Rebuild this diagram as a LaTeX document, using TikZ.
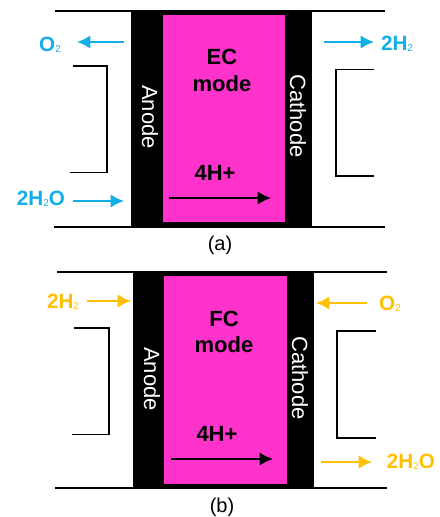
\documentclass[tikz,border=0pt]{standalone}
\usepackage{fontspec}
\setmainfont{Liberation Sans}
\usepackage{xcolor}
\usetikzlibrary{positioning,calc,arrows.meta}
\definecolor{cellpink}{HTML}{FF33CC}
\definecolor{ecblue}{HTML}{12AEE8}
\definecolor{fcyellow}{HTML}{FFC000}
\newcommand{\gassub}[1]{\raisebox{-1pt}{\fontsize{7.5}{7.5}\selectfont\mdseries #1}}
\tikzset{
  rail/.style={line width=1.4pt},
  bracket/.style={line width=1.4pt},
  ecflow/.style={ecblue, line width=1.5pt, -{Latex[length=10pt,width=10pt]}},
  fcflow/.style={fcyellow, line width=1.5pt, -{Latex[length=10pt,width=10pt]}},
  ionflow/.style={black, line width=1.5pt, -{Latex[length=10pt,width=10pt]}},
  gaslabel/.style={font=\fontsize{15.5}{15.5}\selectfont\bfseries, inner sep=0pt},
  modelabel/.style={font=\fontsize{16.5}{16.5}\selectfont\bfseries, inner sep=0pt},
  electrode/.style={white, rotate=-90, font=\fontsize{16.5}{16.5}\selectfont, inner sep=0pt},
  caption/.style={font=\fontsize{15}{15}\selectfont, inner sep=0pt}
}
\begin{document}
\begin{tikzpicture}[x=0.75pt, y=-0.75pt]
  \useasboundingbox (0, 0) rectangle (439, 517);

  % Panel (a): rails
  \draw[rail] (55, 11) -- (385, 11);
  \draw[rail] (54, 227) -- (385, 227);

  % Electrodes and membrane
  \fill[black] (131, 11) rectangle (312, 227);
  \fill[cellpink] (163, 15) rectangle (285, 222);
  \node[electrode] (anodea) at (150, 117) {Anode};
  \node[electrode] (cathodea) at (298, 116) {Cathode};
  \node[modelabel] (eclabel) at (222, 57) {EC};
  \node[modelabel] (ecmode) at (222, 84) {mode};

  % Ion path
  \node[modelabel] (ionsa) at (215, 173) {4H+};
  \coordinate (iona1) at (169, 198);
  \coordinate (iona2) at (271, 198);
  \draw[ionflow] (iona1) -- (iona2);

  % External brackets
  \draw[bracket] (73, 66) -- (107, 66) -- (107, 172.5) -- (70, 172.5);
  \draw[bracket] (374, 69.5) -- (336, 69.5) -- (336, 176) -- (374, 176);

  % Gas and water flows
  \node[gaslabel, ecblue] (o2a) at (50, 45) {O\gassub{2}};
  \coordinate (o2a1) at (124, 42);
  \coordinate (o2a2) at (77, 42);
  \draw[ecflow] (o2a1) -- (o2a2);
  \node[gaslabel, ecblue] (watera) at (41, 199) {2H\gassub{2}O};
  \coordinate (watera1) at (73, 201);
  \coordinate (watera2) at (124, 201);
  \draw[ecflow] (watera1) -- (watera2);
  \node[gaslabel, ecblue] (h2a) at (397, 44) {2H\gassub{2}};
  \coordinate (h2a1) at (324, 42);
  \coordinate (h2a2) at (374, 42);
  \draw[ecflow] (h2a1) -- (h2a2);
  \node[caption] (capa) at (220, 245) {(a)};

  % Panel (b): rails
  \draw[rail] (57, 272) -- (387, 272);
  \draw[rail] (55, 488) -- (387, 488);

  % Electrodes and membrane
  \fill[black] (133, 272) rectangle (314, 488);
  \fill[cellpink] (164, 276) rectangle (287, 484);
  \node[electrode] (anodeb) at (152, 379) {Anode};
  \node[electrode] (cathodeb) at (300, 378) {Cathode};
  \node[modelabel] (fclabel) at (224, 319) {FC};
  \node[modelabel] (fcmode) at (224, 345) {mode};

  % Ion path
  \node[modelabel] (ionsb) at (217, 434) {4H+};
  \coordinate (ionb1) at (171, 459);
  \coordinate (ionb2) at (273, 459);
  \draw[ionflow] (ionb1) -- (ionb2);

  % External brackets
  \draw[bracket] (74, 328) -- (109, 328) -- (109, 434.5) -- (72, 434.5);
  \draw[bracket] (376, 331) -- (337, 331) -- (337, 438) -- (376, 438);

  % Gas and water flows
  \node[gaslabel, fcyellow] (h2b) at (63, 302) {2H\gassub{2}};
  \coordinate (h2b1) at (87, 301);
  \coordinate (h2b2) at (131, 301);
  \draw[fcflow] (h2b1) -- (h2b2);
  \node[gaslabel, fcyellow] (o2b) at (390, 304) {O\gassub{2}};
  \coordinate (o2b1) at (367, 303);
  \coordinate (o2b2) at (316, 303);
  \draw[fcflow] (o2b1) -- (o2b2);
  \node[gaslabel, fcyellow] (waterb) at (411, 462) {2H\gassub{2}O};
  \coordinate (waterb1) at (321, 462);
  \coordinate (waterb2) at (372, 462);
  \draw[fcflow] (waterb1) -- (waterb2);
  \node[caption] (capb) at (222, 507) {(b)};
\end{tikzpicture}
\end{document}
